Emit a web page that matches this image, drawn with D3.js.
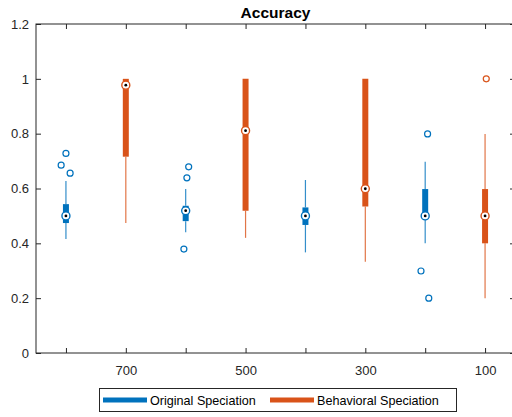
<!DOCTYPE html>
<html>
<head>
<meta charset="utf-8">
<script src="https://cdn.jsdelivr.net/npm/d3@7"></script>
<style>
  body { margin: 0; background: #fff; }
  text { font-family: "Liberation Sans", Arial, sans-serif; fill: #262626; }
</style>
</head>
<body>
<div id="chart"></div>
<script>
// tick labels under each box (only every other one is labelled)
var tickLabels = ["", "700", "", "500", "", "300", "", "100"];
var seriesNames = ["Original Speciation", "Behavioral Speciation"];
var seriesColors = ["#0072BD", "#D95319"];
// which series each box belongs to
var boxSeries = [0, 1, 0, 1, 0, 1, 0, 1];

// box statistics
var q1     = [0.474, 0.716, 0.481, 0.519, 0.467, 0.534, 0.490, 0.400];
var median = [0.500, 0.977, 0.519, 0.811, 0.500, 0.599, 0.500, 0.500];
var q3     = [0.543, 1.000, 0.537, 1.000, 0.531, 1.000, 0.598, 0.598];
var whLo   = [0.416, 0.474, 0.440, 0.420, 0.367, 0.333, 0.400, 0.200];
var whHi   = [0.627, 1.000, 0.598, 1.000, 0.631, 1.000, 0.698, 0.799];

// outliers: box number, value, jitter (in box units)
var outliers = [
  {box: 1, v: 0.728, j: 0.00},
  {box: 1, v: 0.685, j: -0.08},
  {box: 1, v: 0.656, j: 0.07},
  {box: 3, v: 0.679, j: 0.05},
  {box: 3, v: 0.639, j: 0.02},
  {box: 3, v: 0.379, j: -0.03},
  {box: 7, v: 0.799, j: 0.04},
  {box: 7, v: 0.299, j: -0.07},
  {box: 7, v: 0.200, j: 0.06},
  {box: 8, v: 1.000, j: 0.02}
];

var yTicks = [0, 0.2, 0.4, 0.6, 0.8, 1, 1.2];

// dimensions
var margin = {top: 24, right: -3, bottom: 64, left: 36},
    width = 512 - margin.left - margin.right,
    height = 417 - margin.top - margin.bottom;

var root = d3.select("#chart")
  .append("svg")
    .attr("width", 512)
    .attr("height", 417);

root.append("rect").attr("width", 512).attr("height", 417).attr("fill", "#fff");

var svg = root.append("g")
    .attr("transform", "translate(" + margin.left + "," + margin.top + ")");

var boxes = d3.range(8).map(function(i) {
  return {i: i + 1, s: boxSeries[i], q1: q1[i], med: median[i], q3: q3[i], lo: whLo[i], hi: whHi[i]};
});

var x = d3.scaleLinear()
  .domain([0.5, 8.5])
  .range([0, width]);
var y = d3.scaleLinear()
  .domain([0, 1.2])
  .range([height, 0]);

// axes with inward ticks
svg.append("g")
  .attr("transform", "translate(0," + height + ")")
  .call(d3.axisBottom(x).tickValues(d3.range(1, 9)).tickSize(-5).tickPadding(13)
    .tickFormat(function(d) { return tickLabels[d - 1]; }));
svg.append("g")
  .call(d3.axisTop(x).tickValues(d3.range(1, 9)).tickSize(-5).tickFormat(""));
svg.append("g")
  .call(d3.axisLeft(y).tickValues(yTicks).tickSize(-5).tickPadding(7)
    .tickFormat(d3.format("~g")));
svg.append("g")
  .attr("transform", "translate(" + width + ",0)")
  .call(d3.axisRight(y).tickValues(yTicks).tickSize(-5).tickFormat(""));

svg.selectAll(".domain").remove();
svg.selectAll(".tick line").attr("stroke", "#262626");
svg.selectAll(".tick text").style("font-size", "13px").attr("fill", "#262626");

svg.append("rect")
  .attr("width", width)
  .attr("height", height)
  .attr("fill", "none")
  .attr("stroke", "#262626")
  .attr("stroke-width", 1);

// whiskers
var g = svg.append("g");
g.selectAll(".whUp")
  .data(boxes.filter(function(d) { return d.hi > d.q3; }))
  .enter().append("line")
    .attr("x1", function(d) { return x(d.i); })
    .attr("x2", function(d) { return x(d.i); })
    .attr("y1", function(d) { return y(d.q3); })
    .attr("y2", function(d) { return y(d.hi); })
    .attr("stroke", function(d) { return seriesColors[d.s]; })
    .attr("stroke-opacity", 0.8)
    .attr("stroke-width", 1.2);
g.selectAll(".whDn")
  .data(boxes)
  .enter().append("line")
    .attr("x1", function(d) { return x(d.i); })
    .attr("x2", function(d) { return x(d.i); })
    .attr("y1", function(d) { return y(d.q1); })
    .attr("y2", function(d) { return y(d.lo); })
    .attr("stroke", function(d) { return seriesColors[d.s]; })
    .attr("stroke-opacity", 0.8)
    .attr("stroke-width", 1.2);

// boxes (compact style: thick line)
g.selectAll(".box")
  .data(boxes)
  .enter().append("line")
    .attr("x1", function(d) { return x(d.i); })
    .attr("x2", function(d) { return x(d.i); })
    .attr("y1", function(d) { return y(d.q1); })
    .attr("y2", function(d) { return y(d.q3); })
    .attr("stroke", function(d) { return seriesColors[d.s]; })
    .attr("stroke-width", 6);

// medians
g.selectAll(".med")
  .data(boxes)
  .enter().append("circle")
    .attr("cx", function(d) { return x(d.i); })
    .attr("cy", function(d) { return y(d.med); })
    .attr("r", 4)
    .attr("fill", "#fff")
    .attr("stroke", function(d) { return seriesColors[d.s]; })
    .attr("stroke-width", 1.4);
g.selectAll(".medDot")
  .data(boxes)
  .enter().append("circle")
    .attr("cx", function(d) { return x(d.i); })
    .attr("cy", function(d) { return y(d.med); })
    .attr("r", 1.4)
    .attr("fill", "#000");

// outliers
g.selectAll(".out")
  .data(outliers)
  .enter().append("circle")
    .attr("cx", function(d) { return x(d.box + d.j); })
    .attr("cy", function(d) { return y(d.v); })
    .attr("r", 3)
    .attr("fill", "none")
    .attr("stroke", function(d) { return seriesColors[boxSeries[d.box - 1]]; })
    .attr("stroke-width", 1.2);

// title
root.append("text")
  .attr("x", margin.left + width / 2)
  .attr("y", 17.5)
  .attr("text-anchor", "middle")
  .style("font-size", "15.5px")
  .style("font-weight", "bold")
  .style("fill", "#000")
  .text("Accuracy");

// legend
var leg = root.append("g");
leg.append("rect")
  .attr("x", 99.5).attr("y", 388.5)
  .attr("width", 357).attr("height", 23)
  .attr("fill", "#fff")
  .attr("stroke", "#262626")
  .attr("stroke-width", 1);
var legX = [103, 270];
seriesNames.forEach(function(name, k) {
  leg.append("line")
    .attr("x1", legX[k]).attr("x2", legX[k] + 44)
    .attr("y1", 400).attr("y2", 400)
    .attr("stroke", seriesColors[k])
    .attr("stroke-width", 5);
  leg.append("text")
    .attr("x", legX[k] + 47)
    .attr("y", 404.5)
    .style("font-size", "12.6px")
    .style("fill", "#000")
    .text(name);
});
</script>
</body>
</html>
